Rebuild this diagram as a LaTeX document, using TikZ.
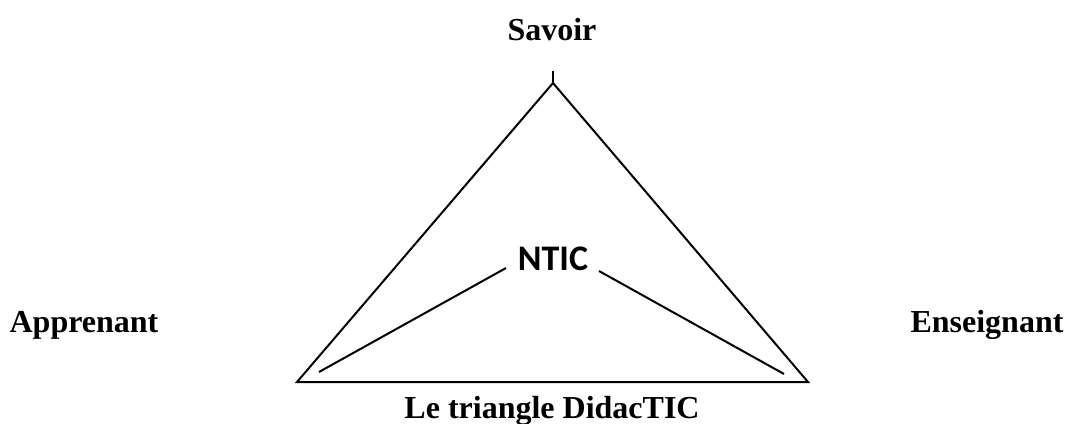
\documentclass[tikz,border=0pt]{standalone}
\usepackage{fontspec}
\setmainfont{Liberation Serif}
\newfontfamily\carl{Carlito}
\begin{document}
\begin{tikzpicture}[x=1pt,y=-1pt,
  lbl/.style={font=\bfseries\fontsize{32}{36}\selectfont, inner sep=0pt},
  ln/.style={line width=2pt}]
\useasboundingbox (0,0) rectangle (1068,423);
\coordinate (top) at (553,83);
\coordinate (tick) at (553,71);
\coordinate (bl) at (297,382);
\coordinate (br) at (808,382);
\coordinate (l1) at (319,372);
\coordinate (l2) at (506,268);
\coordinate (r1) at (599,271);
\coordinate (r2) at (784,374);
\draw[ln, line join=miter] (bl) -- (top) -- (br) -- cycle;
\draw[ln] (top) -- (tick);
\draw[ln] (l1) -- (l2);
\draw[ln] (r1) -- (r2);
\node[lbl] (savoir) at (552,30) {Savoir};
\node[lbl] (app) at (84,325) {Apprenant};
\node[lbl] (ens) at (987,325) {Enseignant};
\node[lbl] (didac) at (552,411) {Le triangle DidacTIC};
\node[inner sep=0pt, font=\carl\bfseries\fontsize{36}{40}\selectfont] (ntic) at (553,259) {NTIC};
\end{tikzpicture}
\end{document}
